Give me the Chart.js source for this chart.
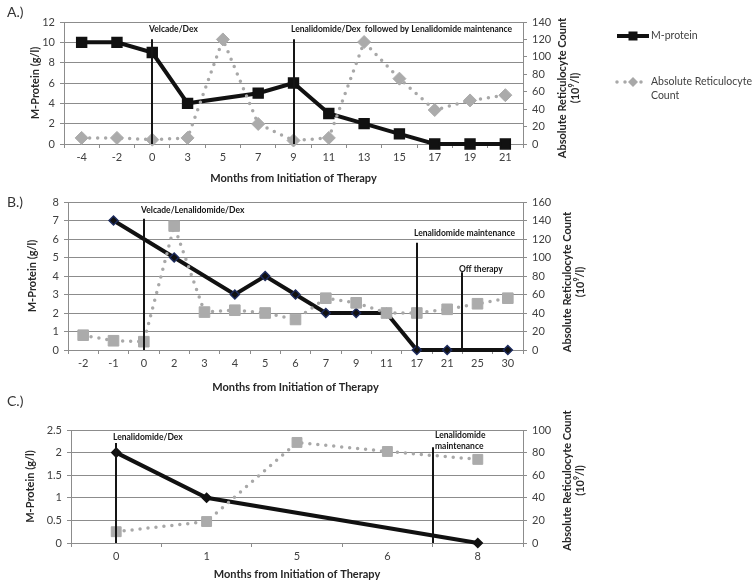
<!DOCTYPE html>
<html>
<head>
<meta charset="utf-8">
<script src="https://cdn.jsdelivr.net/npm/chart.js@4.4.0/dist/chart.umd.min.js"></script>
<style>
  body { margin: 0; background: #fff; }
  #wrap { position: relative; width: 754px; height: 587px; }
  canvas { position: absolute; left: 0; top: 0; }
  .panel { position: absolute; left: 7px; font: 14px Lato, sans-serif; color: #333; }
</style>
</head>
<body>
<div id="wrap">
  <canvas id="chartA" width="754" height="587"></canvas>
  <canvas id="chartB" width="754" height="587"></canvas>
  <canvas id="chartC" width="754" height="587"></canvas>
  <div class="panel" style="top:3px">A.)</div>
  <div class="panel" style="top:193px">B.)</div>
  <div class="panel" style="top:392px">C.)</div>
</div>
<script>
// panel A
const monthsA = ['-4', '-2', '0', '3', '5', '7', '9', '11', '13', '15', '17', '19', '21'];
const mProteinA = [10, 10, 9, 4, null, 5, 6, 3, 2, 1, 0, 0, 0];
const reticA = [7, 7, 5, 7, 120, 23, 4, 7, 117, 75, 39, 50, 56];
// panel B
const monthsB = ['-2', '-1', '0', '2', '3', '4', '5', '6', '7', '9', '11', '17', '21', '25', '30'];
const mProteinB = [null, 7, null, 5, null, 3, 4, 3, 2, 2, 2, 0, 0, null, 0];
const reticB = [16, 10, 9, 134, 41, 43, 40, 33, 56, 51, 40, 40, 44, 50, 56];
// panel C
const monthsC = ['0', '1', '5', '6', '8'];
const mProteinC = [2, 1, null, null, 0];
const reticC = [10, 19, 89, 81, 74];

// therapy start lines: category index, top of line and label height in M-protein units
const therapyA = [
  { at: 2, top: 10.3, labelAt: 11.3, text: ['Velcade/Dex'] },
  { at: 6, top: 10.3, labelAt: 11.3, text: ['Lenalidomide/Dex  followed by Lenalidomide maintenance'] }
];
const therapyB = [
  { at: 2, top: 7.1, labelAt: 7.57, text: ['Velcade/Lenalidomide/Dex'] },
  { at: 11, top: 5.8, labelAt: 6.32, text: ['Lenalidomide maintenance'] },
  { at: 12.5, top: 4.2, labelAt: 4.38, text: ['Off therapy'] }
];
const therapyC = [
  { at: 0, top: 2.21, labelAt: 2.35, text: ['Lenalidomide/Dex'] },
  { at: 3.5, top: 2.12, labelAt: 2.39, text: ['Lenalidomide', 'maintenance'], right: true }
];

const FONT = 'Lato, sans-serif';
const GRID = '#8c8c8c';
const TXT = '#404040';
const RETIC = '#a8a8a8';

const therapyLines = {
  id: 'therapyLines',
  afterDatasetsDraw(chart, args, opts) {
    const { ctx } = chart;
    const x = chart.scales.x, y = chart.scales.y;
    ctx.save();
    ctx.strokeStyle = '#151515';
    ctx.fillStyle = '#151515';
    ctx.lineWidth = 2;
    ctx.font = 'bold 8.5px ' + FONT;
    ctx.textBaseline = 'middle';
    ctx.textAlign = 'left';
    opts.marks.forEach(m => {
      const px = Math.round(x.getPixelForValue(m.at));
      ctx.beginPath();
      ctx.moveTo(px, y.getPixelForValue(0));
      ctx.lineTo(px, y.getPixelForValue(m.top));
      ctx.stroke();
      const ly = y.getPixelForValue(m.labelAt);
      m.text.forEach((t, i) => ctx.fillText(t, m.right ? px + 2 : px - 3, ly + i * 11));
    });
    ctx.restore();
  }
};

// right-hand axis title reads bottom to top, as in the original
const rightTitle = {
  id: 'rightTitle',
  afterDraw(chart, args, opts) {
    const { ctx, chartArea } = chart;
    const cy = (chartArea.top + chartArea.bottom) / 2 + opts.dy;
    const big = 'bold 11px ' + FONT, small = 'bold 7px ' + FONT;
    ctx.save();
    ctx.fillStyle = '#262626';
    ctx.textBaseline = 'middle';
    ctx.font = big;
    ctx.textAlign = 'center';
    ctx.translate(chartArea.right + opts.gap, cy);
    ctx.rotate(-Math.PI / 2);
    ctx.fillText('Absolute Reticulocyte Count', 0, 0);
    // second line: (10^9/l) with a raised 9
    ctx.textAlign = 'left';
    const w1 = ctx.measureText('(10').width, w3 = ctx.measureText('/l)').width;
    ctx.font = small;
    const w2 = ctx.measureText('9').width;
    let sx = -(w1 + w2 + w3) / 2;
    ctx.font = big;
    ctx.fillText('(10', sx, 13);
    ctx.font = small;
    ctx.fillText('9', sx + w1, 10);
    ctx.font = big;
    ctx.fillText('/l)', sx + w1 + w2, 13);
    ctx.restore();
  }
};

const sideLegend = {
  id: 'sideLegend',
  afterDraw(chart, args, opts) {
    if (!opts.show) return;
    const { ctx, chartArea } = chart;
    const x0 = chartArea.right + 94, x1 = x0 + 32, xm = (x0 + x1) / 2;
    const y0 = chartArea.top + 14, y1 = chartArea.top + 60;
    ctx.save();
    ctx.strokeStyle = '#111';
    ctx.lineWidth = 4;
    ctx.beginPath(); ctx.moveTo(x0, y0); ctx.lineTo(x1, y0); ctx.stroke();
    ctx.fillStyle = '#111';
    ctx.fillRect(xm - 4.5, y0 - 4.5, 9, 9);
    ctx.strokeStyle = RETIC;
    ctx.lineWidth = 3.5;
    ctx.lineCap = 'round';
    ctx.setLineDash([0, 8]);
    ctx.beginPath(); ctx.moveTo(x0, y1); ctx.lineTo(x1, y1); ctx.stroke();
    ctx.setLineDash([]);
    ctx.fillStyle = RETIC;
    ctx.beginPath();
    ctx.moveTo(xm - 5, y1); ctx.lineTo(xm, y1 - 5); ctx.lineTo(xm + 5, y1); ctx.lineTo(xm, y1 + 5);
    ctx.closePath(); ctx.fill();
    ctx.font = '10.5px ' + FONT;
    ctx.fillStyle = '#404040';
    ctx.textBaseline = 'middle';
    ctx.fillText('M-protein', x1 + 2, y0);
    ctx.fillText('Absolute Reticulocyte', x1 + 2, y1);
    ctx.fillText('Count', x1 + 2, y1 + 14);
    ctx.restore();
  }
};

function makePanel(id, p) {
  return new Chart(document.getElementById(id), {
    type: 'line',
    data: {
      labels: p.labels,
      datasets: [
        {
          label: 'Absolute Reticulocyte Count',
          data: p.retic,
          yAxisID: 'y1',
          order: 0,
          clip: false,
          borderColor: RETIC,
          borderWidth: 3.5,
          borderDash: [0, 8],
          borderCapStyle: 'round',
          pointStyle: p.reticPoint,
          pointRadius: p.reticRadius,
          pointBackgroundColor: '#ababab',
          pointBorderColor: '#ababab',
          pointBorderWidth: 1
        },
        {
          label: 'M-protein',
          data: p.mProtein,
          yAxisID: 'y',
          order: 1,
          clip: false,
          spanGaps: true,
          borderColor: '#111',
          borderWidth: 4,
          pointStyle: p.mPoint,
          pointRadius: p.mRadius,
          pointBackgroundColor: '#111',
          pointBorderColor: p.mBorder,
          pointBorderWidth: 1.5
        }
      ]
    },
    options: {
      responsive: false,
      animation: false,
      events: [],
      layout: { padding: { left: 0, right: 0, top: p.top, bottom: p.bottomPad } },
      plugins: {
        legend: { display: false },
        tooltip: { enabled: false },
        therapyLines: { marks: p.therapy },
        rightTitle: { gap: p.rtGap, dy: p.rtDy },
        sideLegend: { show: !!p.legend }
      },
      scales: {
        x: {
          offset: true,
          grid: { offset: true, drawOnChartArea: false, tickLength: 4, color: GRID },
          border: { color: GRID },
          ticks: { font: { family: FONT, size: 11 }, color: TXT, padding: 3, maxRotation: 0, autoSkip: false },
          title: {
            display: true,
            text: 'Months from Initiation of Therapy',
            font: { family: FONT, size: 11, weight: 'bold' },
            color: '#262626',
            padding: { top: 0, bottom: p.xTitlePad }
          },
          afterFit: s => { s.height = p.xHeight; }
        },
        y: {
          position: 'left',
          min: 0,
          max: p.yMax,
          grid: { color: GRID, tickLength: 4 },
          border: { color: GRID },
          ticks: {
            stepSize: p.yStep,
            font: { family: FONT, size: 11 },
            color: TXT,
            padding: 5,
            callback: v => String(Math.round(v * 10) / 10)
          },
          title: {
            display: true,
            text: 'M-Protein (g/l)',
            font: { family: FONT, size: 11, weight: 'bold' },
            color: '#262626',
            padding: { top: p.yTitlePad, bottom: 0 }
          },
          afterFit: s => { s.width = p.left; }
        },
        y1: {
          position: 'right',
          min: 0,
          max: p.y1Max,
          grid: { drawOnChartArea: false, color: GRID, tickLength: 4 },
          border: { color: GRID },
          ticks: { stepSize: 20, font: { family: FONT, size: 11 }, color: TXT, padding: 5 },
          afterFit: s => { s.width = 754 - 523; }
        }
      }
    },
    plugins: [therapyLines, rightTitle, sideLegend]
  });
}

makePanel('chartA', {
  labels: monthsA, mProtein: mProteinA, retic: reticA, therapy: therapyA,
  mPoint: 'rect', mRadius: 7, mBorder: '#111',
  reticPoint: 'rectRot', reticRadius: 6.5,
  top: 22, bottomPad: 398, xHeight: 45, xTitlePad: 4.4,
  left: 64, yTitlePad: 28.4, yMax: 12, yStep: 2, y1Max: 140,
  rtGap: 39, rtDy: 5, legend: true
});

makePanel('chartB', {
  labels: monthsB, mProtein: mProteinB, retic: reticB, therapy: therapyB,
  mPoint: 'rectRot', mRadius: 4.5, mBorder: '#1d2b5e',
  reticPoint: 'rect', reticRadius: 7.5,
  top: 202, bottomPad: 192, xHeight: 45, xTitlePad: 1.4,
  left: 68, yTitlePad: 25.4, yMax: 8, yStep: 1, y1Max: 160,
  rtGap: 44, rtDy: 6, legend: false
});

makePanel('chartC', {
  labels: monthsC, mProtein: mProteinC, retic: reticC, therapy: therapyC,
  mPoint: 'rectRot', mRadius: 4.5, mBorder: '#111',
  reticPoint: 'rect', reticRadius: 7,
  top: 430, bottomPad: 4, xHeight: 40, xTitlePad: 2.4,
  left: 71, yTitlePad: 23.4, yMax: 2.5, yStep: 0.5, y1Max: 100,
  rtGap: 44, rtDy: -6, legend: false
});
</script>
</body>
</html>
